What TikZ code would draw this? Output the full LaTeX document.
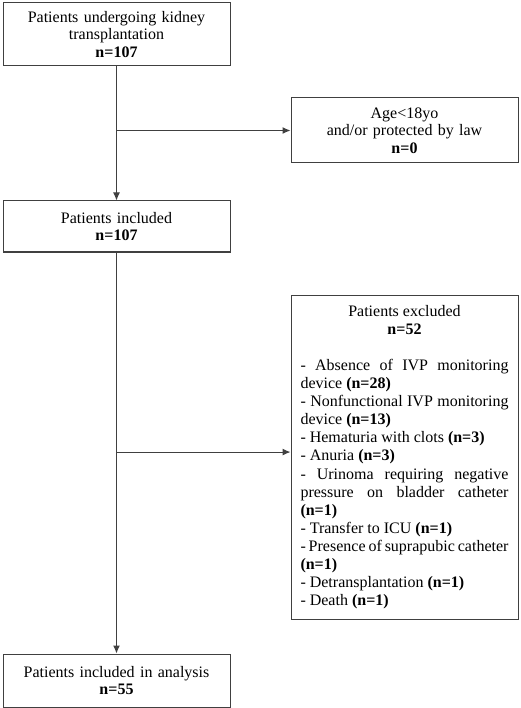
\documentclass[tikz,border=0pt]{standalone}
\usepackage{fontspec}
\setmainfont{Liberation Serif}
\usepackage{tikz}
\usetikzlibrary{arrows.meta,positioning}

\begin{document}
\begin{tikzpicture}[
    x=1pt, y=1pt,
    flowbox/.style={rectangle, draw=black!75, line width=1pt, text width=207pt,
        inner xsep=10pt, align=center, minimum width=227pt,
        font={\fontsize{16}{17.6}\selectfont}},
    exclbox/.style={rectangle, draw=black!75, line width=1pt, text width=208pt,
        inner xsep=9.5pt, inner ysep=10pt, align=justify,
        font={\fontsize{16}{18.1}\selectfont\parindent=0pt}},
    arr/.style={-{Latex[length=8pt,width=7pt]}, draw=black!75, line width=1pt}
]
\useasboundingbox (0,0) rectangle (520,-708);

\node[flowbox, minimum height=63pt] (top) at (116.5,-34.5)
    {Patients undergoing kidney\\ transplantation\\ \textbf{n=107}};
\node[flowbox, minimum height=51pt] (incl) [below=134pt of top]
    {Patients included\\ \textbf{n=107}};
\node[flowbox, minimum height=65pt] (age) [below right=31pt and 60pt of top]
    {Age<18yo\\ and/or protected by law\\ \textbf{n=0}};
\node[exclbox] (excl) [below right=42pt and 60pt of incl]
    {\hbox to 208pt{\hfil Patients excluded\hfil}\par
    \hbox to 208pt{\hfil\textbf{n=52}\hfil}\par
    \mbox{}\par
    - Absence of IVP monitoring\linebreak device \textbf{(n=28)}\par
    - Nonfunctional IVP monitoring\linebreak device \textbf{(n=13)}\par
    - Hematuria with clots \textbf{(n=3)}\par
    - Anuria \textbf{(n=3)}\par
    - Urinoma requiring negative\linebreak pressure on bladder catheter\linebreak \textbf{(n=1)}\par
    - Transfer to ICU \textbf{(n=1)}\par
    - Presence of suprapubic catheter\linebreak \textbf{(n=1)}\par
    - Detransplantation \textbf{(n=1)}\par
    - Death \textbf{(n=1)}};
\node[flowbox, minimum height=53pt] (final) [below=401pt of incl]
    {Patients included in analysis\\ \textbf{n=55}};

\draw[arr] (top) -- (incl);
\draw[arr] (top.south |- age.west) -- (age.west);
\draw[arr] (incl) -- (final);
\draw[arr] ([yshift=5pt]incl.south |- excl.west) -- ([yshift=5pt]excl.west);
\end{tikzpicture}
\end{document}
